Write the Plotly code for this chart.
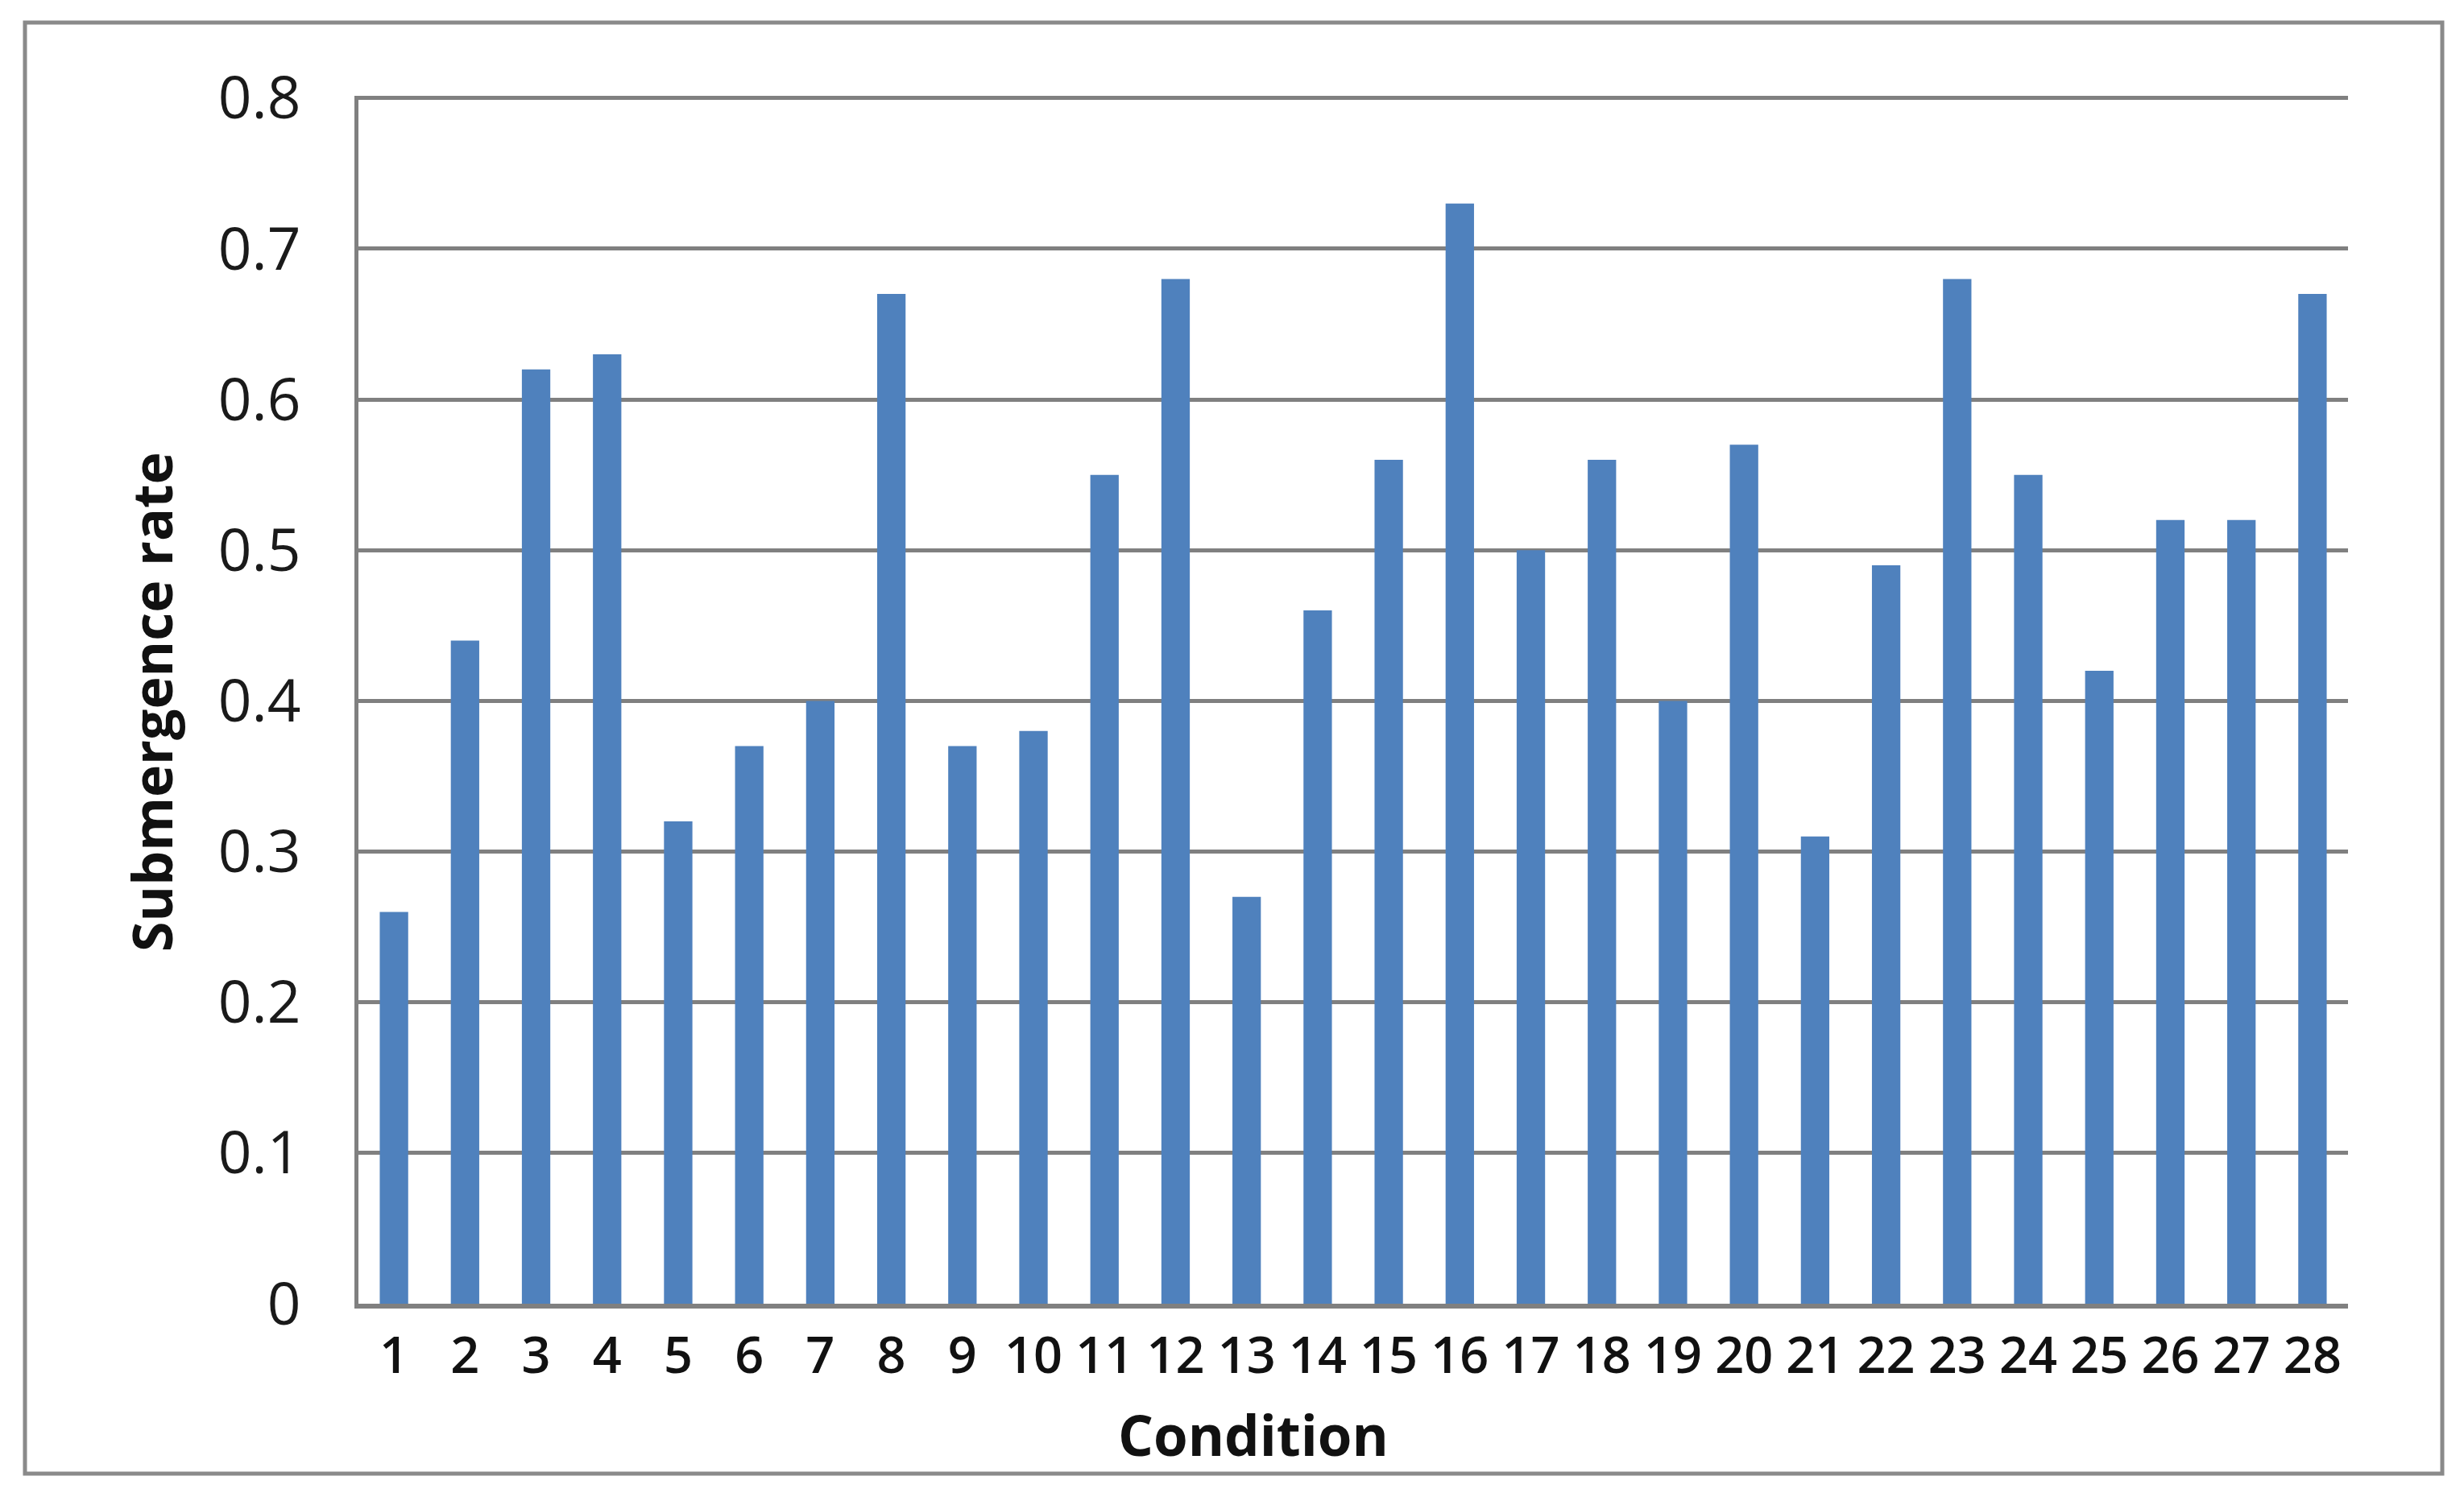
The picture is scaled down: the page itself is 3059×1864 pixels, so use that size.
import plotly.graph_objects as go

conditions = [str(i) for i in range(1, 29)]
submergence_rate = [0.26, 0.44, 0.62, 0.63, 0.32, 0.37, 0.40, 0.67, 0.37, 0.38,
                    0.55, 0.68, 0.27, 0.46, 0.56, 0.73, 0.50, 0.56, 0.40, 0.57,
                    0.31, 0.49, 0.68, 0.55, 0.42, 0.52, 0.52, 0.67]
y_ticks = [0, 0.1, 0.2, 0.3, 0.4, 0.5, 0.6, 0.7, 0.8]
y_tick_text = ["0", "0.1", "0.2", "0.3", "0.4", "0.5", "0.6", "0.7", "0.8"]

# page has an 8px body margin, so the figure is drawn 8px in from the window edge
OFF = 8
W, H = 3059 - 2 * OFF, 1864 - 2 * OFF
L, T = 445 - OFF, 119 - OFF
R = W - (2915 - OFF)
B = H - (1619 - OFF)
pw, ph = W - L - R, H - T - B

def px_x(x):
    return (x - OFF - L) / pw

def px_y(y):
    return (H - B - (y - OFF)) / ph

fig = go.Figure()
fig.add_trace(go.Bar(
    x=conditions, y=submergence_rate,
    marker=dict(color="#4F81BD", line=dict(width=0)),
))

fig.update_layout(
    width=W, height=H,
    margin=dict(l=L, r=R, t=T, b=B, autoexpand=False),
    paper_bgcolor="white", plot_bgcolor="white",
    bargap=0.6, showlegend=False,
    font=dict(family="Open Sans", color="#1a1a1a"),
)
fig.update_xaxes(
    type="category", range=[-0.5, 27.5],
    showgrid=False, showline=True, linecolor="#808080", linewidth=6,
    ticks="", tickfont=dict(family="Open Sans", size=63, weight=600, color="#111"),
    ticklabelstandoff=4, automargin=False,
)
fig.update_yaxes(
    range=[0, 0.8015], tickvals=y_ticks, ticktext=y_tick_text,
    showgrid=True, gridcolor="#808080", gridwidth=5,
    showline=True, linecolor="#808080", linewidth=5, zeroline=False,
    ticks="", tickfont=dict(family="Open Sans", size=73, color="#1a1a1a"),
    ticklabelstandoff=52, automargin=False,
)

fig.add_annotation(text="<b>Condition</b>", xref="paper", yref="paper",
                   x=px_x(1556), y=px_y(1781), showarrow=False,
                   font=dict(family="Open Sans", size=69, color="#111"),
                   xanchor="center", yanchor="middle")
fig.add_annotation(text="<b>Submergence rate</b>", xref="paper", yref="paper",
                   x=px_x(187), y=px_y(872), showarrow=False, textangle=-90,
                   font=dict(family="Open Sans", size=68, color="#111"),
                   xanchor="center", yanchor="middle")

fig.add_shape(type="rect", xref="paper", yref="paper",
              x0=px_x(31), x1=px_x(3032), y0=px_y(1830), y1=px_y(28),
              line=dict(color="#8a8a8a", width=5), fillcolor="rgba(0,0,0,0)",
              layer="below")

fig.write_html("out.html")
